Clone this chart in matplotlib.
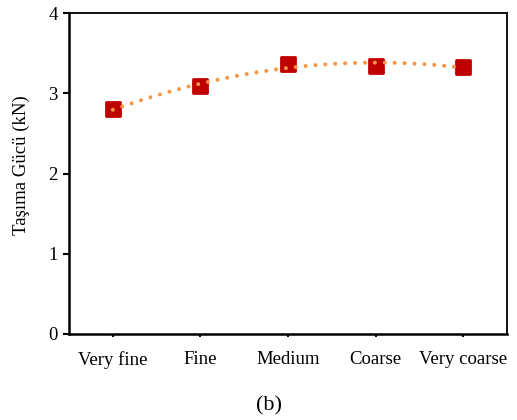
import numpy as np
import matplotlib
matplotlib.use("Agg")
from matplotlib import pyplot as plt
from matplotlib.markers import MarkerStyle

plt.rcParams["font.family"] = ["Liberation Serif", "DejaVu Serif"]

categories = ["Very fine", "Fine", "Medium", "Coarse", "Very coarse"]
capacity = [2.80, 3.09, 3.37, 3.34, 3.33]
y_ticks = [0, 1, 2, 3, 4]

x = np.arange(len(categories))

fig = plt.figure(figsize=(5.17, 4.2), dpi=100)
ax = fig.add_axes([0.1335, 0.2048, 0.8472, 0.7642])

# 2nd order polynomial trendline through the measured points
coef = np.polyfit(x, capacity, 2)
xs = np.linspace(0, len(categories) - 1, 200)
ax.plot(xs, np.polyval(coef, xs), color="#F79646", linewidth=2.9,
        dashes=(0.01, 2.45), dash_capstyle="round", zorder=4)

ax.plot(x, capacity, linestyle="none",
        marker=MarkerStyle("s", joinstyle="round"), markersize=10.5,
        markerfacecolor="#C00000", markeredgecolor="#C00000",
        markeredgewidth=2, zorder=3)

ax.set_xlim(-0.5, len(categories) - 0.5)
ax.set_ylim(0, 4)
ax.set_xticks(x)
ax.set_xticklabels(categories, fontsize=13.5)
ax.set_yticks(y_ticks)
ax.set_yticklabels([str(t) for t in y_ticks], fontsize=13.5)
ax.tick_params(axis="y", direction="out", length=4, width=1.5, pad=4)
ax.tick_params(axis="x", direction="out", length=2.5, width=1.5, pad=10)

for side in ["left", "bottom"]:
    ax.spines[side].set_linewidth(1.8)
for side in ["top", "right"]:
    ax.spines[side].set_linewidth(1.3)

ax.set_ylabel("Taşıma Gücü (kN)", fontsize=13.5)
ax.yaxis.set_label_coords(-0.09, 0.525)
fig.text(0.52, 0.033, "(b)", fontsize=16, ha="center", va="center")

fig.savefig("out.png", dpi=100)
